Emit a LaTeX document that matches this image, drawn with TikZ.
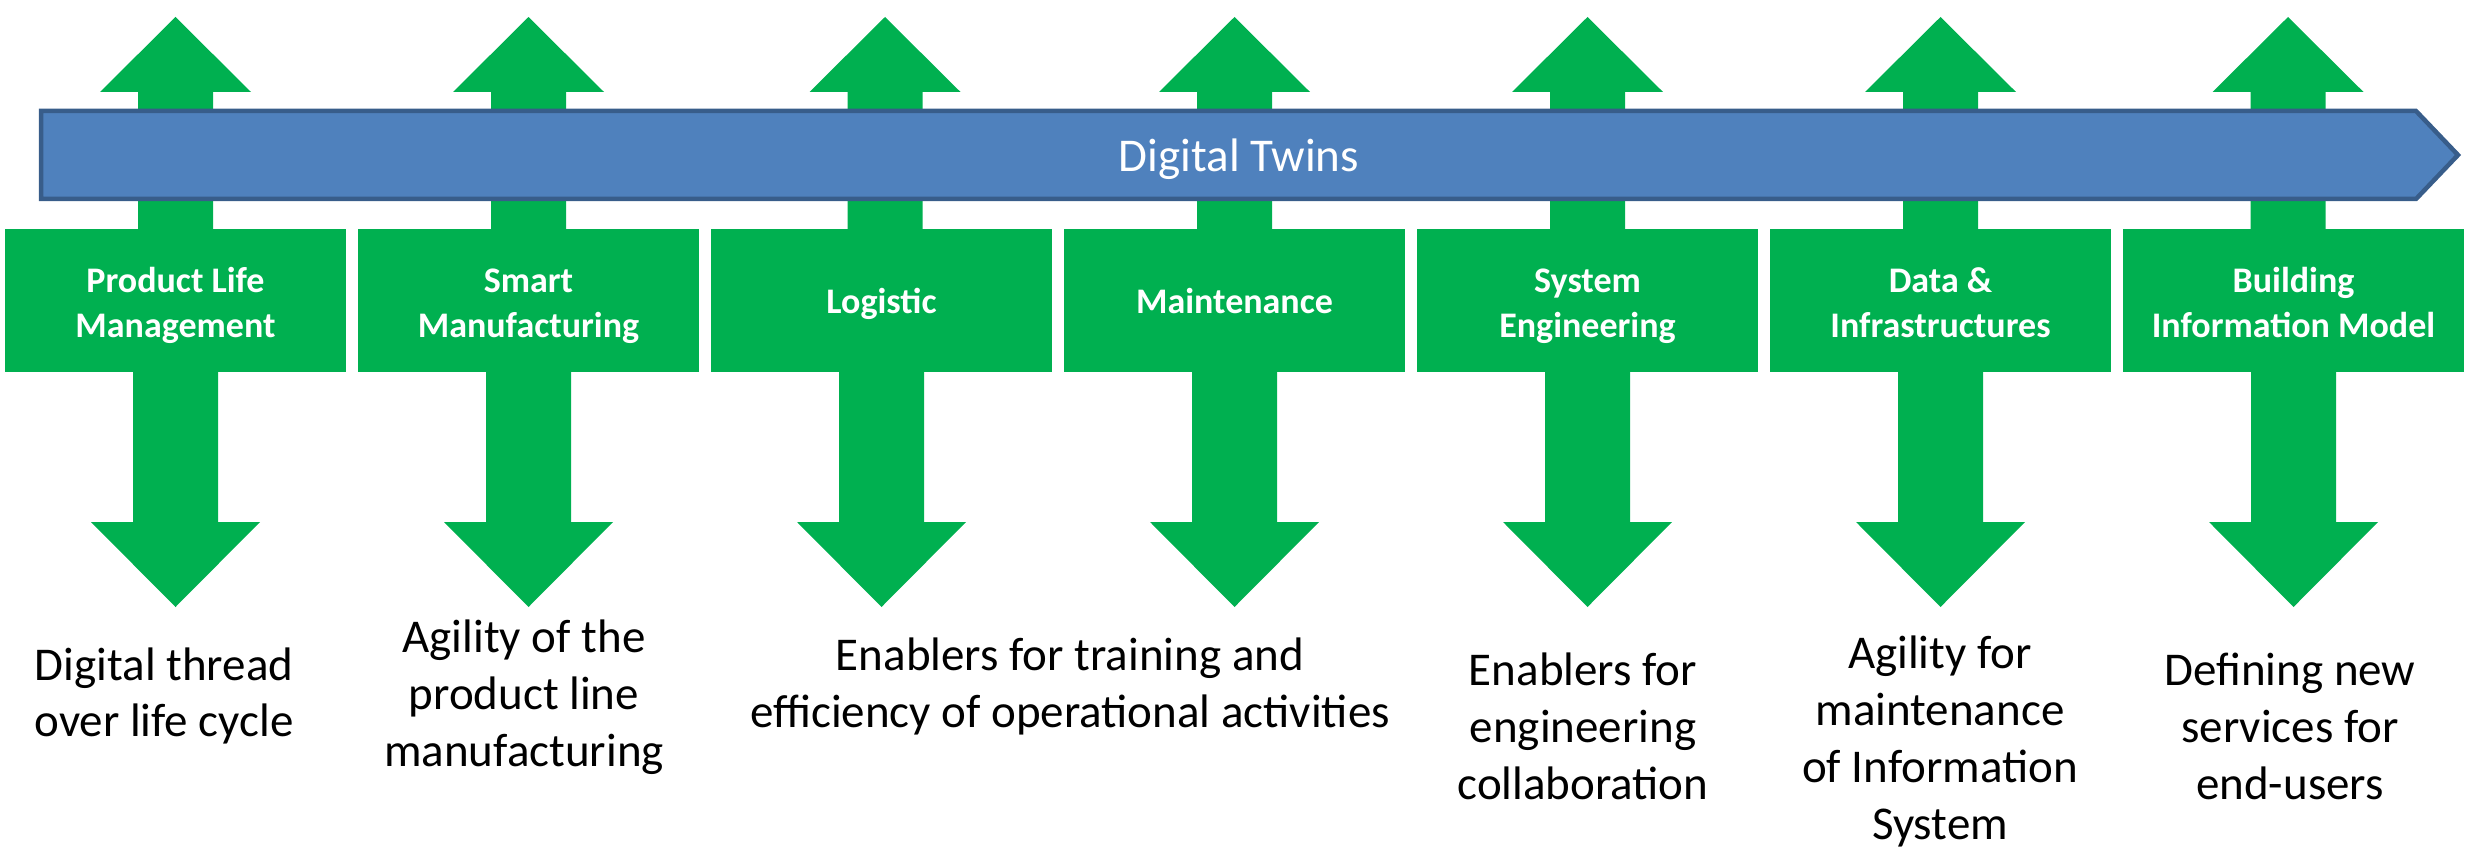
\documentclass[tikz,border=0pt]{standalone}
\usepackage{fontspec}
\setmainfont{Carlito}
\definecolor{dtgreen}{HTML}{00B050}
\definecolor{barfill}{HTML}{4F81BD}
\definecolor{barline}{HTML}{385D8A}
\newcommand\linesat[6]{% name, style, x, first baseline y, step, lines
  \foreach \ln [count=\k from 0] in {#6}{\node[#2] (#1-\k) at (#3,{#4+#5*\k}) {\ln};}}
\begin{document}
\begin{tikzpicture}[x=1pt,y=-1pt,
  gbox/.style={fill=dtgreen,draw=none,minimum width=341pt,minimum height=143pt,inner sep=0pt},
  gshape/.style={fill=dtgreen},
  boxtxt/.style={anchor=base,inner sep=0pt,text=white,font=\fontsize{36}{45}\selectfont\bfseries},
  bartxt/.style={anchor=base,inner sep=0pt,text=white,font=\fontsize{47}{57}\selectfont},
  bodytxt/.style={anchor=base,inner sep=0pt,text=black,font=\fontsize{47}{57}\selectfont},
  barshape/.style={fill=barfill,draw=barline,line width=4.5pt,line join=miter}
]
\useasboundingbox (0,0) rectangle (2471,853);

% up arrows (behind the bar)
\foreach \u in {175.5,528.5,885,1234.5,1587.5,1940.5,2288}{
  \fill[gshape] ({\u-37.5},235) -- ({\u-37.5},92) -- ({\u-75.5},92) -- (\u,17)
     -- ({\u+75.5},92) -- ({\u+37.5},92) -- ({\u+37.5},235) -- cycle;
}

% Digital Twins bar
\draw[barshape] (41,111) -- (2416,111) -- (2458,155) -- (2416,199) -- (41,199) -- cycle;
\node[bartxt] (bar) at (1239,172) {Digital Twins};

% boxes and down arrows
\foreach \i in {0,...,6}{
  \pgfmathsetmacro\c{175.5+353*\i}
  \node[gbox] (box\i) at (\c,300.5) {};
  \fill[gshape] ({\c-42.5},365) -- ({\c-42.5},522) -- ({\c-84.5},522) -- (\c,607)
     -- ({\c+84.5},522) -- ({\c+42.5},522) -- ({\c+42.5},365) -- cycle;
}

% box labels
\linesat{bl0}{boxtxt}{175.5}{292}{45}{Product Life,Management}
\linesat{bl1}{boxtxt}{528.5}{292}{45}{Smart,Manufacturing}
\linesat{bl2}{boxtxt}{881.5}{313}{45}{Logistic}
\linesat{bl3}{boxtxt}{1234.5}{313}{45}{Maintenance}
\linesat{bl4}{boxtxt}{1587.5}{292}{45}{System,Engineering}
\linesat{bl5}{boxtxt}{1940.5}{292}{45}{Data \&,Infrastructures}
\linesat{bl6}{boxtxt}{2293.5}{292}{45}{Building,Information Model}

% bottom texts
\linesat{d0}{bodytxt}{164}{680}{56}{Digital thread,over life cycle}
\linesat{d1}{bodytxt}{524}{652}{57}{Agility of the,product line,manufacturing}
\linesat{d2}{bodytxt}{1070}{670}{57}{Enablers for training and,efficiency of operational activities}
\linesat{d4}{bodytxt}{1583}{685}{57}{Enablers for,engineering,collaboration}
\linesat{d5}{bodytxt}{1940}{668}{57}{Agility for,maintenance,of Information,System}
\linesat{d6}{bodytxt}{2290}{685}{57}{Defining new,services for,end-users}
\end{tikzpicture}
\end{document}
